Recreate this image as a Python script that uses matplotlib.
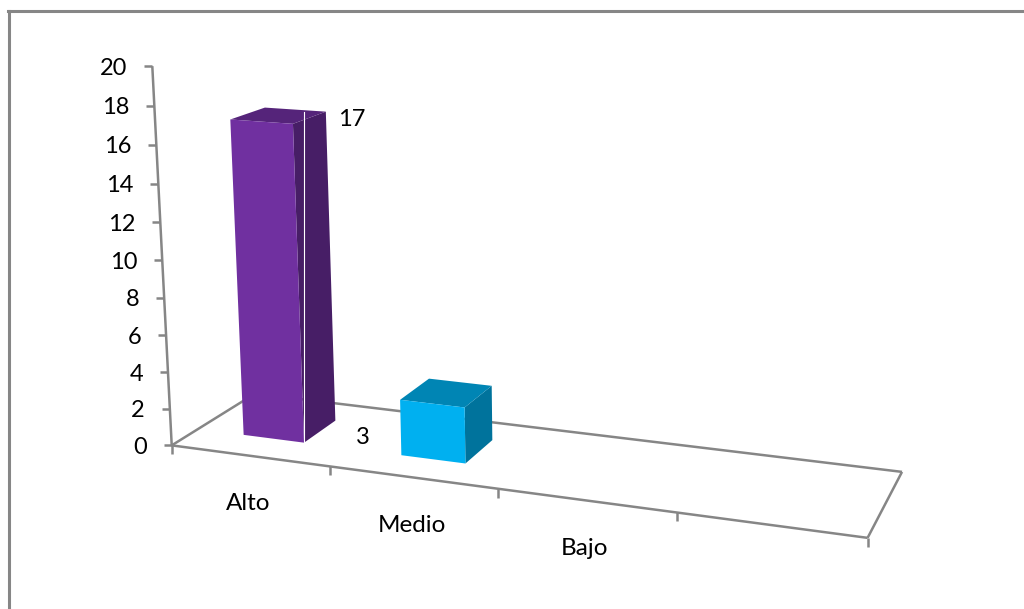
import numpy as np
import matplotlib
matplotlib.use("Agg")
import matplotlib.pyplot as plt
from matplotlib.patches import Polygon

plt.rcParams['font.family'] = ['Lato', 'DejaVu Sans']

# data
categorias = ["Alto", "Medio", "Bajo"]
valores = [17, 3]
colores_frente = ["#7030A0", "#00B0F0"]
colores_lado = ["#471E66", "#00739C"]
colores_arriba = ["#55247A", "#0085B4"]
marcas_y = [0, 2, 4, 6, 8, 10, 12, 14, 16, 18, 20]
n_cat = 4  # el eje tiene una cuarta categoria vacia

# calibracion de la perspectiva: (x, prof, z) -> pixel
mundo = [(0, 0, 0), (1, 0, 0), (2, 0, 0), (3, 0, 0), (4, 0, 0), (4, 1, 0), (0, 1, 0),
         (0, 0, 2), (0, 0, 4), (0, 0, 6), (0, 0, 8), (0, 0, 10),
         (0, 0, 12), (0, 0, 14), (0, 0, 16), (0, 0, 18), (0, 0, 20)]
pixel = [(172, 445), (330, 467), (498, 489), (676, 513), (868, 537), (902, 472), (255, 393.5),
         (170, 409), (168, 372), (166, 335), (164, 298), (162, 260),
         (160, 222), (158, 184), (156, 145), (154.5, 105.5), (153, 66)]


def calibrar(mundo, pixel):
    A = []
    b = []
    for (x, y, z), (u, v) in zip(mundo, pixel):
        A.append([x, y, z, 1, 0, 0, 0, 0, -u*x, -u*y, -u*z])
        b.append(u)
        A.append([0, 0, 0, 0, x, y, z, 1, -v*x, -v*y, -v*z])
        b.append(v)
    p = np.linalg.lstsq(np.array(A, float), np.array(b, float), rcond=1e-9)[0]
    return np.append(p, 1).reshape(3, 4)


P = calibrar(mundo, pixel)


def proy(x, y, z):
    q = P @ np.array([x, y, z, 1.0])
    return q[0] / q[2], q[1] / q[2]


fig = plt.figure(figsize=(10.24, 6.09), dpi=100)
ax = fig.add_axes([0, 0, 1, 1])
ax.set_xlim(0, 1024)
ax.set_ylim(609, 0)
ax.axis('off')

gris = "#868686"
lw = 1.8


def linea(a, b, c=gris):
    ax.plot([a[0], b[0]], [a[1], b[1]], color=c, lw=lw, solid_capstyle='butt', zorder=2)


# marco
ax.plot([9, 9], [609, 11], color=gris, lw=2.2, zorder=1)
ax.plot([8, 1024], [11, 11], color=gris, lw=2.2, zorder=1)

# piso
linea(proy(0, 0, 0), proy(n_cat, 0, 0))
linea(proy(0, 1, 0), proy(n_cat, 1, 0))
linea(proy(0, 0, 0), proy(0, 1, 0))
linea(proy(n_cat, 0, 0), proy(n_cat, 1, 0))

# eje x
for i in range(n_cat + 1):
    u, v = proy(i, 0, 0)
    linea((u, v), (u, v + 9))

# eje y
linea(proy(0, 0, 0), proy(0, 0, 20))
for m in marcas_y:
    u, v = proy(0, 0, m)
    linea((u - 8, v), (u, v))
    ax.text(u - 25, v + 2, str(m), ha='right', va='center', fontsize=17, color='black')

for i, c in enumerate(categorias):
    u, v = proy(i + 0.5, 0, 0)
    ax.text(u - 1, v + 48, c, ha='center', va='center', fontsize=17.5, color='black')

# barras
x0, x1 = 0.30, 0.69
d0, d1 = 0.30, 0.71
for i, val in enumerate(valores):
    a = i + x0
    b = i + x1
    frente = [proy(a, d0, 0), proy(b, d0, 0), proy(b, d0, val), proy(a, d0, val)]
    lado = [proy(b, d0, 0), proy(b, d1, 0), proy(b, d1, val), proy(b, d0, val)]
    arriba = [proy(a, d0, val), proy(b, d0, val), proy(b, d1, val), proy(a, d1, val)]
    ax.add_patch(Polygon(lado, fc=colores_lado[i], ec='none', zorder=3))
    ax.add_patch(Polygon(arriba, fc=colores_arriba[i], ec='none', zorder=3))
    ax.add_patch(Polygon(frente, fc=colores_frente[i], ec='none', zorder=4))

# linea blanca de la primera barra
u, v = proy(x1, d0, 0)
ax.plot([u, u], [v, proy(x1, d1, valores[0])[1]], color='white', lw=0.8, zorder=5)

# etiquetas de valor
u, v = proy(x1, d1, valores[0])
ax.text(u + 26, v + 8, str(valores[0]), ha='center', va='center', fontsize=17, color='black')
u, v = proy(1 + x1, d1, valores[1])
ax.text(u - 129, v + 52, str(valores[1]), ha='center', va='center', fontsize=17, color='black')

fig.savefig("out.png", dpi=100)
